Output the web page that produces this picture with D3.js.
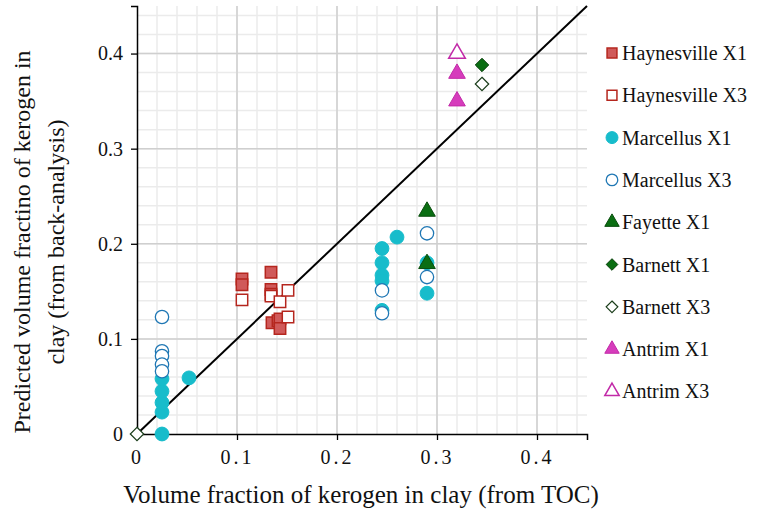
<!DOCTYPE html>
<html>
<head>
<meta charset="utf-8">
<script src="https://cdn.jsdelivr.net/npm/d3@7"></script>
<style>
  body { margin: 0; background: #fff; }
  svg text { font-family: "Liberation Serif", "Times New Roman", Times, "DejaVu Serif", serif !important; fill: #111; }
</style>
</head>
<body>
<div id="chart"></div>
<script>
// ── Data (x = from TOC, y = predicted from back-analysis) ──
const haynesvilleX1 = [[0.105, 0.163], [0.105, 0.157], [0.134, 0.170], [0.134, 0.152], [0.134, 0.147],
                       [0.135, 0.117], [0.141, 0.119], [0.143, 0.121], [0.143, 0.111]];
const haynesvilleX3 = [[0.105, 0.141], [0.134, 0.145], [0.143, 0.139], [0.151, 0.151], [0.151, 0.123]];
const marcellusX1   = [[0.025, 0.000], [0.025, 0.023], [0.025, 0.033], [0.025, 0.045], [0.025, 0.058],
                       [0.052, 0.059], [0.245, 0.195], [0.245, 0.180], [0.245, 0.167], [0.245, 0.161],
                       [0.245, 0.130], [0.260, 0.207], [0.290, 0.180], [0.290, 0.148]];
const marcellusX3   = [[0.025, 0.123], [0.025, 0.087], [0.025, 0.082], [0.025, 0.073], [0.025, 0.066],
                       [0.245, 0.151], [0.245, 0.127], [0.290, 0.211], [0.290, 0.165]];
const fayetteX1     = [[0.290, 0.234], [0.290, 0.179]];
const barnettX1     = [[0.345, 0.388]];
const barnettX3     = [[0.000, 0.000], [0.345, 0.368]];
const antrimX1      = [[0.320, 0.379], [0.320, 0.350]];
const antrimX3      = [[0.320, 0.400]];

const xTicks = [0, 0.1, 0.2, 0.3, 0.4];
const yTicks = [0, 0.1, 0.2, 0.3, 0.4];

// square rotated 45° — looks like the reference diamonds
const diamond = {
  draw(ctx, size) {
    const r = Math.sqrt(size / 2);
    ctx.moveTo(0, -r); ctx.lineTo(r, 0); ctx.lineTo(0, r); ctx.lineTo(-r, 0); ctx.closePath();
  }
};

const series = [
  { name: "Haynesville X1", data: haynesvilleX1, shape: d3.symbolSquare,   size: 130, fill: "#d05a5a", stroke: "#b5261e", sw: 1.5 },
  { name: "Haynesville X3", data: haynesvilleX3, shape: d3.symbolSquare,   size: 130, fill: "#fff",    stroke: "#b5261e", sw: 1.5 },
  { name: "Marcellus X1",   data: marcellusX1,   shape: d3.symbolCircle,   size: 150, fill: "#17bccb", stroke: "#17bccb", sw: 1 },
  { name: "Marcellus X3",   data: marcellusX3,   shape: d3.symbolCircle,   size: 140, fill: "#fff",    stroke: "#1f77b4", sw: 1.3 },
  { name: "Fayette X1",     data: fayetteX1,     shape: d3.symbolTriangle, size: 120, fill: "#0a6e12", stroke: "#084d0c", sw: 1 },
  { name: "Barnett X1",     data: barnettX1,     shape: diamond,           size: 90,  fill: "#0a6e12", stroke: "#053d08", sw: 1 },
  { name: "Barnett X3",     data: barnettX3,     shape: diamond,           size: 90,  fill: "#fff",    stroke: "#1a3d1a", sw: 1.2 },
  { name: "Antrim X1",      data: antrimX1,      shape: d3.symbolTriangle, size: 120, fill: "#d63cbc", stroke: "#c22aa8", sw: 1 },
  { name: "Antrim X3",      data: antrimX3,      shape: d3.symbolTriangle, size: 120, fill: "#fff",    stroke: "#c22aa8", sw: 1.5 }
];

const W = 758, H = 517;
const margin = { top: 6, right: 171, bottom: 83, left: 137 };
const iW = W - margin.left - margin.right;
const iH = H - margin.top - margin.bottom;

const svg = d3.select("#chart").append("svg").attr("width", W).attr("height", H);
const g = svg.append("g").attr("transform", `translate(${margin.left},${margin.top})`);

const x = d3.scaleLinear().domain([0, 0.45]).range([0, iW]);
const y = d3.scaleLinear().domain([0, 0.45]).range([iH, 0]);

// ── Grid: minor every 0.02, major every 0.1 ──
const minor = d3.range(0.02, 0.451, 0.02);
g.append("g").selectAll("line").data(minor).join("line")
  .attr("x1", d => x(d)).attr("x2", d => x(d)).attr("y1", 0).attr("y2", iH)
  .attr("stroke", "#ebebeb").attr("stroke-width", 1.5);
g.append("g").selectAll("line").data(minor).join("line")
  .attr("y1", d => y(d)).attr("y2", d => y(d)).attr("x1", 0).attr("x2", iW)
  .attr("stroke", "#ebebeb").attr("stroke-width", 1.5);
g.append("g").selectAll("line").data(xTicks.slice(1)).join("line")
  .attr("x1", d => x(d)).attr("x2", d => x(d)).attr("y1", 0).attr("y2", iH)
  .attr("stroke", "#cfcfcf").attr("stroke-width", 1.5);
g.append("g").selectAll("line").data(yTicks.slice(1)).join("line")
  .attr("y1", d => y(d)).attr("y2", d => y(d)).attr("x1", 0).attr("x2", iW)
  .attr("stroke", "#cfcfcf").attr("stroke-width", 1.5);

// ── Axes ──
const fmt = d => d === 0 ? "0" : d3.format(".1f")(d);
const xAxis = g.append("g").attr("transform", `translate(0,${iH})`)
  .call(d3.axisBottom(x).tickValues(xTicks).tickFormat(fmt).tickSize(6).tickPadding(10));
const yAxis = g.append("g")
  .call(d3.axisLeft(y).tickValues(yTicks).tickFormat(fmt).tickSize(6).tickPadding(8));
[xAxis, yAxis].forEach(ax => {
  ax.attr("font-family", null);
  ax.select(".domain").attr("stroke", "#000").attr("stroke-width", 1.5);
  ax.selectAll(".tick line").attr("stroke", "#000").attr("stroke-width", 1.3);
  ax.selectAll("text").attr("font-size", 20).attr("fill", "#111");
});
xAxis.selectAll("text").attr("letter-spacing", 3);

// ── 1:1 line ──
g.append("line")
  .attr("x1", x(0)).attr("y1", y(0)).attr("x2", x(0.45)).attr("y2", y(0.45))
  .attr("stroke", "#000").attr("stroke-width", 2);

// ── Points ──
series.forEach(s => {
  g.append("g").selectAll("path").data(s.data).join("path")
    .attr("transform", d => `translate(${x(d[0])},${y(d[1])})`)
    .attr("d", d3.symbol().type(s.shape).size(s.size))
    .attr("fill", s.fill).attr("stroke", s.stroke).attr("stroke-width", s.sw);
});

// ── Axis titles ──
svg.append("text")
  .attr("x", 361).attr("y", 503)
  .attr("text-anchor", "middle").attr("font-size", 25)
  .text("Volume fraction of kerogen in clay (from TOC)");

const yt = svg.append("text")
  .attr("transform", `translate(30,242) rotate(-90)`)
  .attr("text-anchor", "middle").attr("font-size", 24);
yt.append("tspan").attr("x", 0).attr("dy", 0).text("Predicted volume fractino of kerogen in");
yt.append("tspan").attr("x", 0).attr("dy", 34).text("clay (from back-analysis)");

// ── Legend ──
const lg = svg.append("g").attr("transform", "translate(612,53)");
series.forEach((s, i) => {
  const row = lg.append("g").attr("transform", `translate(0,${i * 42.3})`);
  row.append("path")
    .attr("d", d3.symbol().type(s.shape).size(s.size * 0.75))
    .attr("fill", s.fill).attr("stroke", s.stroke).attr("stroke-width", s.sw);
  row.append("text").attr("x", 10).attr("y", 7).attr("font-size", 20).text(s.name);
});
</script>
</body>
</html>
